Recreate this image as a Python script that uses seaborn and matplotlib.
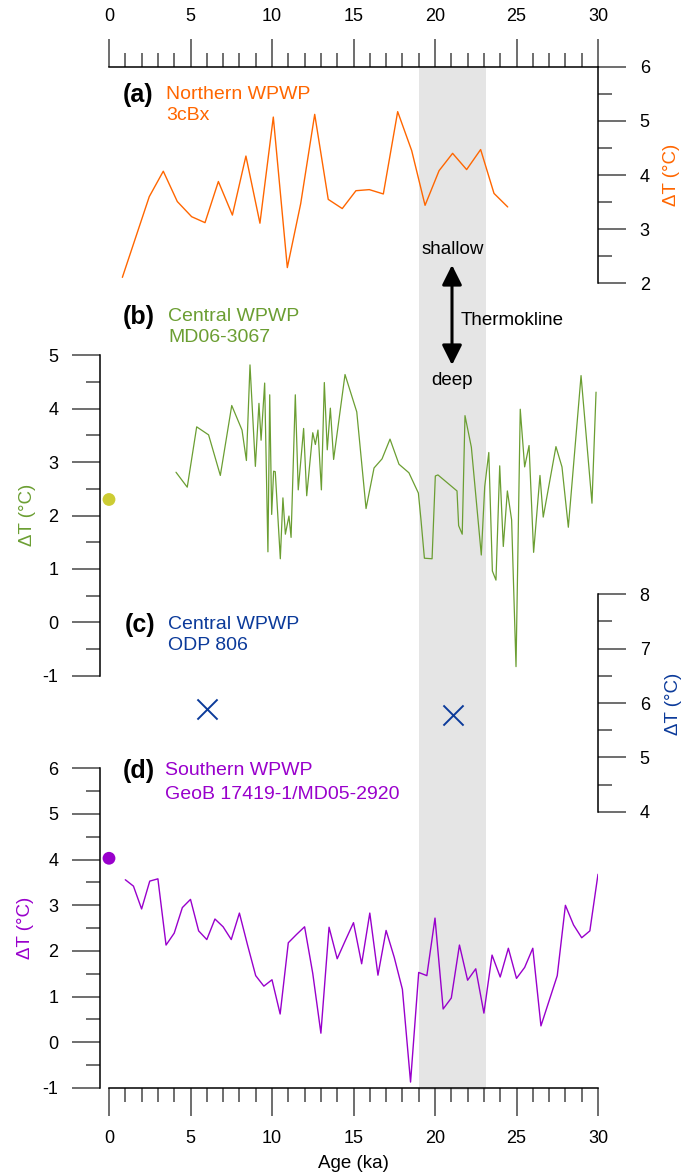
import matplotlib
matplotlib.use('Agg')
import matplotlib.pyplot as plt
from matplotlib.ticker import MultipleLocator
import seaborn as sns

# ---------------- data ----------------
# (a) Northern WPWP 3cBx
a_age = [0.82, 2.47, 3.33, 4.19, 5.07, 5.89, 6.71, 7.57, 8.40, 9.26, 10.08, 10.94, 11.76, 12.62,
         13.45, 14.31, 15.15, 15.97, 16.83, 17.71, 18.57, 19.39, 20.25, 21.08, 21.94, 22.80, 23.62, 24.46]
a_val = [2.11, 3.60, 4.07, 3.51, 3.23, 3.12, 3.88, 3.26, 4.35, 3.11, 5.07, 2.29, 3.47, 5.12,
         3.55, 3.38, 3.71, 3.73, 3.65, 5.17, 4.45, 3.44, 4.08, 4.40, 4.10, 4.47, 3.66, 3.41]

# (b) Central WPWP MD06-3067
b_age = [4.11, 4.80, 5.38, 6.11, 6.83, 7.53, 8.16, 8.43, 8.65, 8.98, 9.20, 9.33, 9.55, 9.75, 9.86,
         9.98, 10.10, 10.20, 10.51, 10.67, 10.82, 11.04, 11.17, 11.43, 11.61, 11.94, 12.13, 12.50,
         12.66, 12.82, 13.03, 13.21, 13.39, 13.58, 13.78, 14.48, 15.20, 15.77, 16.26, 16.75, 17.24,
         17.79, 18.40, 18.98, 19.14, 19.35, 19.82, 20.02, 20.18, 21.35, 21.45, 21.67, 21.84, 22.23,
         22.84, 23.05, 23.30, 23.52, 23.74, 23.97, 24.19, 24.44, 24.70, 24.97, 25.23, 25.50, 25.77,
         26.05, 26.44, 26.64, 27.42, 27.79, 28.18, 28.96, 29.63, 29.88]
b_val = [2.81, 2.53, 3.66, 3.51, 2.75, 4.06, 3.60, 3.03, 4.82, 2.92, 4.10, 3.41, 4.48, 1.32, 4.26,
         2.02, 2.83, 2.82, 1.19, 2.33, 1.65, 1.99, 1.59, 4.26, 2.48, 3.63, 2.37, 3.55,
         3.33, 3.60, 2.48, 4.49, 3.23, 4.01, 3.05, 4.64, 3.94, 2.13, 2.89, 3.06, 3.43,
         2.96, 2.80, 2.42, 1.92, 1.20, 1.19, 2.74, 2.76, 2.46, 1.81, 1.65, 3.87, 3.28,
         1.26, 2.54, 3.18, 0.96, 0.79, 2.93, 1.42, 2.46, 1.92, -0.83, 3.99, 2.91, 3.31,
         1.31, 2.75, 1.97, 3.29, 2.91, 1.78, 4.62, 2.23, 4.31]
b_dot_age = [0.0]
b_dot_val = [2.30]

# (c) Central WPWP ODP 806
c_age = [6.0, 21.1]
c_val = [5.89, 5.78]

# (d) Southern WPWP GeoB 17419-1/MD05-2920
d_age = [1.0, 1.5, 2.0, 2.5, 3.0, 3.5, 4.0, 4.5, 5.0, 5.5, 6.0, 6.5, 7.0, 7.5, 8.0, 8.5, 9.0, 9.5,
         10.0, 10.5, 11.0, 11.5, 12.0, 12.5, 13.0, 13.5, 14.0, 14.5, 15.0, 15.5, 16.0, 16.5, 17.0,
         17.5, 18.0, 18.5, 19.0, 19.5, 20.0, 20.5, 21.0, 21.5, 22.0, 22.5, 23.0, 23.5, 24.0, 24.5,
         25.0, 25.5, 26.0, 26.5, 27.0, 27.5, 28.0, 28.5, 29.0, 29.5, 30.0]
d_val = [3.56, 3.42, 2.92, 3.53, 3.58, 2.13, 2.39, 2.95, 3.13, 2.44, 2.25, 2.70, 2.53, 2.25, 2.83,
         2.13, 1.46, 1.23, 1.37, 0.62, 2.18, 2.36, 2.53, 1.51, 0.20, 2.52, 1.83, 2.23, 2.62, 1.72,
         2.83, 1.47, 2.45, 1.86, 1.16, -0.87, 1.53, 1.46, 2.72, 0.73, 0.97, 2.13, 1.36, 1.61, 0.64,
         1.91, 1.43, 2.06, 1.40, 1.64, 2.06, 0.36, 0.91, 1.46, 3.00, 2.57, 2.29, 2.44, 3.68]
d_dot_age = [0.0]
d_dot_val = [4.03]

lgm_span = (19.0, 23.1)

# ---------------- style ----------------
sns.set_style('white')
plt.rcParams['font.family'] = ['Liberation Sans', 'DejaVu Sans']
plt.rcParams['text.color'] = 'black'
plt.rcParams['axes.unicode_minus'] = False

C_A, C_B, C_C, C_D, C_DOT = '#ff6600', '#6b9e32', '#0b3a9a', '#9900cc', '#cccc33'

W, H = 686, 1174
fig = plt.figure(figsize=(W / 100, H / 100), dpi=100)
X0, X1 = 109, 598


def box(top, bottom, left=X0, right=X1):
    return [left / W, 1 - bottom / H, (right - left) / W, (bottom - top) / H]


ax_bg = fig.add_axes(box(66, 1090))
ax_bg.set_xlim(0, 30)
ax_bg.axvspan(*lgm_span, color='#e5e5e5', lw=0)
ax_bg.axis('off')

ax_a = fig.add_axes(box(66.7, 283.3))
ax_b = fig.add_axes(box(355.3, 675.7))
ax_c = fig.add_axes(box(594.3, 811.7))
ax_d = fig.add_axes(box(768.3, 1088))

TICK_KW = dict(color='#555555', width=1.2, labelsize=13, labelcolor='black', direction='out')


def base(ax, ylim, side, xside=None):
    ax.set_facecolor('none')
    ax.set_xlim(0, 30)
    ax.set_ylim(*ylim)
    for s in ax.spines.values():
        s.set_visible(False)
        s.set_color('black')
        s.set_linewidth(1.1)
    ax.spines[side].set_visible(True)
    if side == 'left':
        ax.spines['left'].set_position(('outward', 6.5))
    ax.yaxis.set_major_locator(MultipleLocator(1))
    ax.yaxis.set_minor_locator(MultipleLocator(0.5))
    ax.tick_params(axis='y', which='both', left=(side == 'left'), right=(side == 'right'),
                   labelleft=(side == 'left'), labelright=(side == 'right'), pad=10, **TICK_KW)
    ax.tick_params(axis='y', which='major', length=20)
    ax.tick_params(axis='y', which='minor', length=10)
    if xside is None:
        ax.tick_params(axis='x', which='both', bottom=False, top=False,
                       labelbottom=False, labeltop=False)
    else:
        ax.spines[xside].set_visible(True)
        ax.xaxis.set_major_locator(MultipleLocator(5))
        ax.xaxis.set_minor_locator(MultipleLocator(1))
        ax.tick_params(axis='x', which='both', bottom=(xside == 'bottom'), top=(xside == 'top'),
                       labelbottom=(xside == 'bottom'), labeltop=(xside == 'top'), pad=10, **TICK_KW)
        ax.tick_params(axis='x', which='major', length=20)
        ax.tick_params(axis='x', which='minor', length=10)
    ax.set_xlabel('')
    ax.set_ylabel('')


sns.lineplot(x=a_age, y=a_val, ax=ax_a, color=C_A, lw=1.0, estimator=None, sort=False)
base(ax_a, (2, 6), 'right', 'top')

sns.lineplot(x=b_age, y=b_val, ax=ax_b, color=C_B, lw=0.9, estimator=None, sort=False)
sns.scatterplot(x=b_dot_age, y=b_dot_val, ax=ax_b, color=C_DOT, s=85, edgecolor='none',
                clip_on=False, zorder=5)
base(ax_b, (-1, 5), 'left')

sns.scatterplot(x=c_age, y=c_val, ax=ax_c, marker='x', s=210, color=C_C, linewidth=1.4,
                clip_on=False, zorder=5)
base(ax_c, (4, 8), 'right')

sns.lineplot(x=d_age, y=d_val, ax=ax_d, color=C_D, lw=1.0, estimator=None, sort=False)
sns.scatterplot(x=d_dot_age, y=d_dot_val, ax=ax_d, color=C_D, s=85, edgecolor='none',
                clip_on=False, zorder=5)
base(ax_d, (-1, 6), 'left', 'bottom')

# ---------------- overlay texts ----------------
ov = fig.add_axes([0, 0, 1, 1])
ov.set_xlim(0, W)
ov.set_ylim(H, 0)
ov.axis('off')
ov.patch.set_alpha(0)

for lab, x, y in [('(a)', 123, 102), ('(b)', 123, 324), ('(c)', 125, 632), ('(d)', 123, 778)]:
    ov.text(x, y, lab, fontsize=18, fontweight='bold', ha='left', va='baseline')

names = [
    ('Northern WPWP', 166, 99, C_A), ('3cBx', 166, 120, C_A),
    ('Central WPWP', 168, 321, C_B), ('MD06-3067', 168, 342, C_B),
    ('Central WPWP', 168, 629, C_C), ('ODP 806', 168, 650, C_C),
    ('Southern WPWP', 165, 775, C_D), ('GeoB 17419-1/MD05-2920', 165, 799, C_D),
]
for t, x, y, c in names:
    ov.text(x, y, t, fontsize=14, color=c, ha='left', va='baseline')

for x, y, c in [(672, 175, C_A), (27, 515, C_B), (673, 704, C_C), (25, 928, C_D)]:
    ov.text(x, y, 'ΔT (°C)', fontsize=13.5, color=c, rotation=90, ha='center', va='center')

ov.text(353, 1163, 'Age (ka)', fontsize=13.5, ha='center', va='center')

ov.annotate('', xy=(452, 265), xytext=(452, 365),
            arrowprops=dict(arrowstyle='<|-|>,head_length=0.6,head_width=0.3', lw=2.2,
                            color='black', mutation_scale=20, shrinkA=0, shrinkB=0))
ov.text(453, 254, 'shallow', fontsize=13.5, ha='center', va='baseline')
ov.text(452, 385, 'deep', fontsize=13.5, ha='center', va='baseline')
ov.text(461, 325, 'Thermokline', fontsize=13.5, ha='left', va='baseline')

fig.savefig('out.png', dpi=100)
